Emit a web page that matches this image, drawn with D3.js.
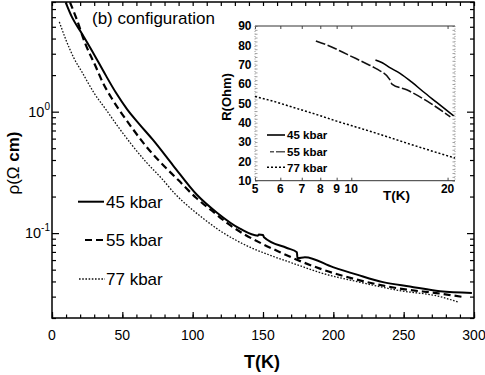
<!DOCTYPE html>
<html><head><meta charset="utf-8">
<script src="https://cdn.jsdelivr.net/npm/d3@7"></script>
<style>
body{margin:0;background:#fff}
svg{display:block}
text{font-family:"Liberation Sans",Arial,Helvetica,sans-serif;fill:#000}
</style>
</head><body>
<svg id="c" width="485" height="375"></svg>
<script>
// ---------- data: main panel (T in K, rho in Ohm cm) ----------
const seriesNames = ["45 kbar", "55 kbar", "77 kbar"];
const T45 = [9.7, 14.2, 21.1, 28.2, 37.7, 45.5, 53.3, 62.5, 71.8, 86.0, 103.0, 117.3, 133.6, 146.4, 147.1, 150.0, 150.7, 167.0, 174.1, 174.5, 179.8, 199.7, 216.8, 235.3, 254.4, 275.8, 298.5];
const R45 = [7.95, 6.00, 4.43, 3.21, 2.04, 1.43, 1.05, 0.78, 0.585, 0.362, 0.2068, 0.1471, 0.1087, 0.0952, 0.0975, 0.0965, 0.0925, 0.0754, 0.0697, 0.0622, 0.0634, 0.0525, 0.0455, 0.0395, 0.0363, 0.0332, 0.0322];
const T55 = [12.8, 17.8, 23.5, 30.6, 36.3, 41.9, 48.3, 56.9, 66.1, 76.8, 89.6, 102.4, 113.7, 125.1, 137.2, 149.3, 162.1, 174.1, 190.5, 216.8, 247.3, 275.8, 292.1];
const R55 = [7.95, 5.67, 3.67, 2.42, 1.72, 1.32, 1.013, 0.735, 0.532, 0.386, 0.2747, 0.1954, 0.1528, 0.1195, 0.0970, 0.0818, 0.0697, 0.0604, 0.0510, 0.0414, 0.0349, 0.0318, 0.0298];
const T77 = [5.2, 10.0, 15.6, 21.3, 29.9, 39.1, 47.6, 56.2, 66.8, 78.2, 87.4, 98.1, 108.7, 119.4, 130.1, 140.7, 154.9, 174.1, 190.5, 216.8, 247.3, 275.8, 288.8];
const R77 = [5.49, 3.88, 2.76, 2.12, 1.425, 1.013, 0.735, 0.543, 0.386, 0.280, 0.2108, 0.1617, 0.1289, 0.1046, 0.0883, 0.0766, 0.0658, 0.0550, 0.0473, 0.0399, 0.0336, 0.0300, 0.0270];
const xTickLabels = [0, 50, 100, 150, 200, 250, 300];
const yTickValues = [0.1, 1];
const yTickExps = ["-1", "0"];

// ---------- data: inset (T in K, R in Ohm) ----------
const iT45 = [11.9, 12.5, 13.2, 14.2, 15.5, 16.8, 18.5, 20.9];
const iR45 = [72.4, 71.0, 68.5, 65.5, 60.8, 56.0, 50.5, 43.5];
const iT55 = [7.75, 8.5, 9.2, 10.0, 11.0, 12.0, 13.2, 13.4, 14.9, 17.7, 20.4];
const iR55 = [82.3, 79.8, 77.2, 74.3, 71.0, 67.8, 62.3, 60.0, 57.0, 50.0, 43.0];
const iT77 = [5.0, 5.5, 6.0, 6.5, 7.0, 8.0, 9.0, 10.0, 12.0, 15.0, 18.0, 21.1];
const iR77 = [53.5, 51.8, 50.0, 48.2, 46.6, 43.6, 40.8, 38.5, 34.5, 29.3, 25.2, 21.7];
const insetXTicks = [5, 6, 7, 8, 9, 10, 20];
const insetYTicks = [10, 20, 30, 40, 50, 60, 70, 80, 90];

// ---------- drawing ----------
const svg = d3.select("#c");
const L = 52, R = 474, Tp = 2, B = 318;
const x = d3.scaleLinear().domain([0, 300]).range([L, R]);
const y = d3.scaleLog().domain([0.02, 8]).range([B, Tp]);

const minorX = d3.range(0, 301, 10);
const majorX = xTickLabels;
const logMinor = [];
[0.01, 0.1, 1].forEach(d => { for (let k = 2; k <= 9; k++) { const v = k * d; if (v >= 0.02 && v <= 8) logMinor.push(v); } });

function clean(g) { g.select(".domain").remove(); g.selectAll(".tick line").attr("stroke", "#000").attr("stroke-width", 1.2); }

svg.append("g").attr("transform", `translate(0,${B})`).call(d3.axisBottom(x).tickValues(minorX).tickSize(-3.5).tickFormat("")).call(clean);
svg.append("g").attr("transform", `translate(0,${B})`).call(d3.axisBottom(x).tickValues(majorX).tickSize(-6).tickFormat("")).call(clean);
svg.append("g").attr("transform", `translate(0,${Tp})`).call(d3.axisTop(x).tickValues(minorX).tickSize(-4).tickFormat("")).call(clean);
svg.append("g").attr("transform", `translate(${L},0)`).call(d3.axisLeft(y).tickValues(logMinor).tickSize(-4).tickFormat("")).call(clean);
svg.append("g").attr("transform", `translate(${L},0)`).call(d3.axisLeft(y).tickValues(yTickValues).tickSize(-7).tickFormat("")).call(clean);
svg.append("g").attr("transform", `translate(${R},0)`).call(d3.axisRight(y).tickValues(logMinor).tickSize(-4).tickFormat("")).call(clean);
svg.append("g").attr("transform", `translate(${R},0)`).call(d3.axisRight(y).tickValues(yTickValues).tickSize(-7).tickFormat("")).call(clean);

svg.append("rect").attr("x", L).attr("y", Tp).attr("width", R - L).attr("height", B - Tp)
  .attr("fill", "none").attr("stroke", "#000").attr("stroke-width", 1.5);

svg.selectAll("text.xl").data(xTickLabels).enter().append("text")
  .attr("x", d => x(d)).attr("y", 340).attr("text-anchor", "middle")
  .attr("font-size", 14).text(d => d);

yTickValues.forEach((v, i) => {
  const t = svg.append("text").attr("x", 50).attr("y", y(v) + 5.2).attr("text-anchor", "end").attr("font-size", 14.5);
  t.append("tspan").text("10");
  t.append("tspan").attr("dy", -7).attr("font-size", 10).text(yTickExps[i]);
});

svg.append("text").attr("x", 262).attr("y", 368).attr("text-anchor", "middle")
  .attr("font-size", 18).attr("font-weight", "bold").text("T(K)");
const yl = svg.append("text").attr("transform", "translate(19,163) rotate(-90)")
  .attr("text-anchor", "middle").attr("font-size", 17);
yl.append("tspan").text("ρ(Ω ");
yl.append("tspan").attr("font-weight", "bold").text("cm)");

svg.append("text").attr("x", 92).attr("y", 24).attr("font-size", 17).text("(b) configuration");

svg.append("clipPath").attr("id", "clip").append("rect").attr("x", L).attr("y", Tp).attr("width", R - L).attr("height", B - Tp);
const line = d3.line().x(d => x(d[0])).y(d => y(d[1])).curve(d3.curveMonotoneX);
const styles = [
  { w: 2, dash: null, col: "#000" },
  { w: 2.2, dash: "7,4", col: "#000" },
  { w: 1.3, dash: "1.6,1.6", col: "#111" }
];
const mainSeries = [d3.zip(T45, R45), d3.zip(T55, R55), d3.zip(T77, R77)];
mainSeries.forEach((s, i) => {
  svg.append("path").attr("d", line(s)).attr("fill", "none").attr("clip-path", "url(#clip)")
    .attr("stroke", styles[i].col).attr("stroke-width", styles[i].w)
    .attr("stroke-dasharray", styles[i].dash);
});

const legY = [201.7, 240, 279];
const legX = [[78, 104], [85, 105], [79, 105]];
seriesNames.forEach((n, i) => {
  svg.append("line").attr("x1", legX[i][0]).attr("x2", legX[i][1]).attr("y1", legY[i]).attr("y2", legY[i])
    .attr("stroke", styles[i].col).attr("stroke-width", styles[i].w).attr("stroke-dasharray", styles[i].dash);
  svg.append("text").attr("x", 106).attr("y", legY[i] + 6).attr("font-size", 17).text(n);
});

// ---------- inset ----------
const iL = 255, iR = 455, iTp = 26, iB = 180.7;
const ix = d3.scaleLog().domain([5, 21.1]).range([iL, iR]);
const iy = d3.scaleLinear().domain([10, 90]).range([iB, iTp]);
svg.append("rect").attr("x", iL).attr("y", iTp).attr("width", iR - iL).attr("height", iB - iTp).attr("fill", "#fff");

const iMinorY = d3.range(10, 91, 2);
function cleanG(g) { g.select(".domain").remove(); g.selectAll(".tick line").attr("stroke", "#888").attr("stroke-width", 0.8); }
svg.append("g").attr("transform", `translate(${iL},0)`).call(d3.axisLeft(iy).tickValues(iMinorY).tickSize(-2.5).tickFormat("")).call(cleanG);
svg.append("g").attr("transform", `translate(${iR},0)`).call(d3.axisRight(iy).tickValues(iMinorY).tickSize(-2.5).tickFormat("")).call(cleanG);
function cleanK(g) { g.select(".domain").remove(); g.selectAll(".tick line").attr("stroke", "#333").attr("stroke-width", 0.9); }
svg.append("g").attr("transform", `translate(0,${iB})`).call(d3.axisBottom(ix).tickValues(insetXTicks).tickSize(-3).tickFormat("")).call(cleanK);
svg.append("g").attr("transform", `translate(0,${iTp})`).call(d3.axisTop(ix).tickValues(insetXTicks).tickSize(-3).tickFormat("")).call(cleanK);

svg.append("line").attr("x1", iL).attr("x2", iR).attr("y1", iTp).attr("y2", iTp).attr("stroke", "#333").attr("stroke-width", 1);
svg.append("line").attr("x1", iL).attr("x2", iR).attr("y1", iB).attr("y2", iB).attr("stroke", "#333").attr("stroke-width", 1);
svg.append("line").attr("x1", iL).attr("x2", iL).attr("y1", iTp).attr("y2", iB).attr("stroke", "#999").attr("stroke-width", 1).attr("stroke-dasharray", "1,1.5");
svg.append("line").attr("x1", iR).attr("x2", iR).attr("y1", iTp).attr("y2", iB).attr("stroke", "#999").attr("stroke-width", 1).attr("stroke-dasharray", "1,1.5");

svg.selectAll("text.iyl").data(insetYTicks).enter().append("text")
  .attr("x", 251.5).attr("y", d => iy(d) + 4.3).attr("text-anchor", "end")
  .attr("font-size", 12).attr("font-weight", "bold").text(d => d);
svg.selectAll("text.ixl").data(insetXTicks).enter().append("text")
  .attr("x", d => ix(d)).attr("y", 192.5).attr("text-anchor", "middle")
  .attr("font-size", 12).attr("font-weight", "bold").text(d => d);
svg.append("text").attr("x", 396.5).attr("y", 199.5).attr("text-anchor", "middle")
  .attr("font-size", 13.5).attr("font-weight", "bold").text("T(K)");
svg.append("text").attr("transform", "translate(231,97) rotate(-90)").attr("text-anchor", "middle")
  .attr("font-size", 13).attr("font-weight", "bold").text("R(Ohm)");

const iline = d3.line().x(d => ix(d[0])).y(d => iy(d[1])).curve(d3.curveMonotoneX);
const iStyles = [
  { w: 1.6, dash: null, col: "#000" },
  { w: 1.6, dash: "10,2.5", col: "#111" },
  { w: 1.5, dash: "2,2", col: "#000" }
];
const insetSeries = [d3.zip(iT45, iR45), d3.zip(iT55, iR55), d3.zip(iT77, iR77)];
insetSeries.forEach((s, i) => {
  svg.append("path").attr("d", iline(s)).attr("fill", "none")
    .attr("stroke", iStyles[i].col).attr("stroke-width", iStyles[i].w).attr("stroke-dasharray", iStyles[i].dash);
});

const iLegY = [135, 151.7, 167.3];
const iLegDash = [null, "4,2,8,0", "2,2"];
seriesNames.forEach((n, i) => {
  svg.append("line").attr("x1", i === 1 ? 270 : 267).attr("x2", 285).attr("y1", iLegY[i]).attr("y2", iLegY[i])
    .attr("stroke", i === 1 ? "#555" : "#000").attr("stroke-width", iStyles[i].w).attr("stroke-dasharray", iLegDash[i]);
  svg.append("text").attr("x", 287).attr("y", iLegY[i] + 4.2).attr("font-size", 11.5).attr("font-weight", "bold").text(n);
});
</script>
</body></html>
